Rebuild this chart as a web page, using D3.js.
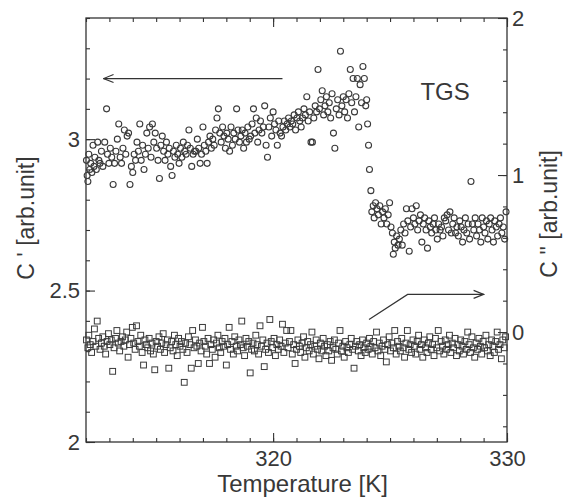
<!DOCTYPE html>
<html>
<head>
<meta charset="utf-8">
<script src="https://cdn.jsdelivr.net/npm/d3@7"></script>
<style>
  body { margin: 0; background: #fff; }
  svg text { font-family: "Liberation Sans", Arial, Helvetica, sans-serif; fill: #383838; }
</style>
</head>
<body>
<div id="chart"></div>
<script>
// C' (real part), left axis: [T, C'] below and above the transition
const realBelow = [
  [312.02,2.93],[312.05,2.88],[312.08,2.86],[312.12,2.95],[312.16,2.90],[312.20,2.92],[312.25,2.89],[312.30,2.98],
  [312.34,2.91],[312.38,2.94],[312.44,2.90],[312.50,2.99],[312.55,2.93],[312.60,2.92],[312.66,2.96],[312.72,2.91],
  [312.80,2.99],[312.88,3.10],[312.92,2.95],[312.98,2.92],[313.04,2.97],[313.10,2.94],[313.16,2.85],[313.22,2.92],
  [313.28,2.96],[313.34,3.00],[313.40,3.05],[313.46,2.94],[313.52,2.92],[313.58,2.97],[313.64,3.03],[313.70,2.95],
  [313.76,3.01],[313.82,3.02],[313.88,2.85],[313.94,2.91],[314.00,2.89],[314.06,2.95],[314.12,2.93],[314.18,2.99],
  [314.24,2.96],[314.30,3.05],[314.36,2.93],[314.42,2.98],[314.48,2.90],[314.54,2.95],[314.60,3.02],[314.66,2.97],
  [314.72,3.04],[314.78,2.94],[314.84,3.05],[314.90,2.99],[314.96,3.02],[315.02,2.97],[315.08,2.93],[315.14,2.87],
  [315.20,2.98],[315.26,3.01],[315.32,2.96],[315.38,2.93],[315.44,2.99],[315.50,2.95],[315.56,2.97],[315.62,2.91],
  [315.68,2.88],[315.74,2.96],[315.80,2.94],[315.86,2.98],[315.92,2.95],[315.98,2.92],[316.04,2.97],[316.10,2.94],
  [316.16,2.99],[316.22,2.96],[316.28,2.95],[316.34,2.98],[316.40,3.03],[316.46,2.97],[316.52,2.91],[316.58,2.95],
  [316.64,2.96],[316.70,2.96],[316.76,3.00],[316.82,2.97],[316.88,2.92],[316.94,2.95],[317.00,3.04],[317.06,2.98],
  [317.12,2.96],[317.18,2.92],[317.24,2.99],[317.30,3.01],[317.36,2.97],[317.42,3.00],[317.48,2.98],[317.54,3.03],
  [317.60,3.07],[317.66,3.10],[317.72,3.02],[317.78,2.99],[317.84,3.04],[317.90,3.01],[317.96,2.97],[318.02,3.02],
  [318.08,3.00],[318.14,2.96],[318.20,3.04],[318.26,2.98],[318.32,3.02],[318.38,3.00],[318.44,3.10],[318.50,3.03],
  [318.56,2.99],[318.62,3.01],[318.68,3.03],[318.74,2.97],[318.80,3.02],[318.86,2.99],[318.92,3.04],[318.98,3.00],
  [319.04,3.01],[319.10,3.05],[319.16,3.10],[319.22,3.02],[319.28,3.07],[319.34,2.99],[319.40,3.03],[319.46,3.06],
  [319.52,3.02],[319.58,3.04],[319.64,3.11],[319.70,2.98],[319.76,2.94],[319.82,3.04],[319.88,3.07],[319.94,3.01],
  [320.00,3.09],[320.06,3.05],[320.12,3.03],[320.18,2.98],[320.24,3.06],[320.30,3.02],[320.36,3.01],[320.42,3.04],
  [320.48,3.06],[320.54,3.03],[320.60,3.05],[320.66,3.07],[320.72,3.04],[320.78,3.06],[320.84,3.05],[320.90,3.08],
  [320.96,3.03],[321.02,3.07],[321.08,3.09],[321.14,3.06],[321.20,3.04],[321.26,3.07],[321.32,3.10],[321.38,3.08],
  [321.44,3.14],[321.50,3.06],[321.56,3.09],[321.62,2.99],[321.68,2.99],[321.74,3.07],[321.80,3.11],[321.86,3.09],
  [321.92,3.23],[321.98,3.10],[322.04,3.13],[322.10,3.16],[322.16,3.08],[322.22,3.11],[322.28,3.14],[322.34,3.09],
  [322.40,3.12],[322.46,3.07],[322.52,3.15],[322.58,3.02],[322.64,2.97],[322.70,3.10],[322.76,3.13],[322.82,3.08],
  [322.88,3.29],[322.94,3.11],[323.00,3.14],[323.06,3.09],[323.12,3.13],[323.18,3.07],[323.24,3.15],[323.30,3.23],
  [323.36,3.12],[323.42,3.20],[323.48,3.09],[323.54,3.14],[323.60,3.20],[323.66,3.04],[323.72,3.18],[323.78,3.12],
  [323.84,3.24],[323.90,3.20],[323.96,3.11],[324.00,3.13],[324.04,3.05],[324.08,2.98],[324.12,2.90],[324.18,2.83]
];
const realAbove = [
  [324.22,2.76],[324.28,2.78],[324.32,2.74],[324.38,2.79],[324.44,2.77],[324.50,2.75],[324.56,2.78],[324.62,2.72],
  [324.68,2.76],[324.74,2.74],[324.80,2.77],[324.86,2.72],[324.92,2.75],[324.98,2.79],[325.04,2.71],[325.10,2.69],
  [325.14,2.62],[325.18,2.66],[325.22,2.64],[325.28,2.68],[325.34,2.65],[325.40,2.67],[325.46,2.70],[325.52,2.65],
  [325.58,2.72],[325.64,2.69],[325.70,2.77],[325.76,2.73],[325.82,2.63],[325.88,2.71],[325.94,2.77],[326.00,2.74],
  [326.06,2.72],[326.12,2.78],[326.18,2.70],[326.24,2.73],[326.30,2.75],[326.36,2.66],[326.42,2.72],[326.48,2.74],
  [326.54,2.70],[326.60,2.64],[326.66,2.73],[326.72,2.71],[326.78,2.69],[326.84,2.72],[326.90,2.74],[326.96,2.70],
  [327.02,2.67],[327.08,2.72],[327.14,2.70],[327.20,2.71],[327.26,2.68],[327.32,2.74],[327.38,2.73],[327.44,2.75],
  [327.50,2.70],[327.56,2.76],[327.62,2.69],[327.68,2.72],[327.74,2.74],[327.80,2.69],[327.86,2.71],[327.92,2.68],
  [327.98,2.73],[328.04,2.71],[328.10,2.66],[328.16,2.70],[328.22,2.74],[328.28,2.69],[328.34,2.72],[328.40,2.67],
  [328.46,2.86],[328.52,2.72],[328.58,2.70],[328.64,2.74],[328.70,2.68],[328.76,2.72],[328.82,2.70],[328.88,2.66],
  [328.94,2.74],[329.00,2.71],[329.06,2.69],[329.12,2.73],[329.18,2.67],[329.24,2.72],[329.30,2.74],[329.36,2.70],
  [329.42,2.66],[329.48,2.73],[329.54,2.71],[329.60,2.68],[329.66,2.72],[329.72,2.74],[329.78,2.69],[329.84,2.71],
  [329.90,2.67],[329.96,2.76]
];
// C'' (imaginary part), right axis: [T, C'']
const imagPart = [
  [312.02,-0.05],[312.08,-0.10],[312.12,-0.02],[312.18,-0.08],[312.24,-0.13],[312.30,-0.06],[312.36,0.02],[312.42,-0.09],
  [312.48,0.07],[312.54,-0.04],[312.60,-0.11],[312.66,-0.07],[312.72,-0.03],[312.78,-0.09],[312.84,-0.14],[312.90,-0.06],
  [312.96,-0.01],[313.02,-0.08],[313.08,-0.05],[313.14,-0.25],[313.20,-0.10],[313.26,-0.04],[313.32,0.01],[313.38,-0.07],
  [313.44,-0.12],[313.50,-0.06],[313.56,-0.03],[313.62,-0.09],[313.68,-0.05],[313.74,0.00],[313.80,-0.16],[313.86,-0.08],
  [313.92,-0.04],[313.98,0.03],[314.04,-0.07],[314.10,-0.11],[314.16,0.04],[314.22,-0.06],[314.28,-0.09],[314.34,-0.02],
  [314.40,-0.13],[314.46,-0.21],[314.52,-0.05],[314.58,-0.08],[314.64,-0.10],[314.70,-0.04],[314.76,-0.12],[314.82,-0.07],
  [314.88,-0.14],[314.94,-0.24],[315.00,-0.06],[315.06,-0.09],[315.12,-0.03],[315.18,-0.11],[315.24,-0.07],[315.30,-0.01],
  [315.36,-0.13],[315.42,-0.08],[315.48,-0.05],[315.54,-0.23],[315.60,-0.10],[315.66,-0.06],[315.72,-0.12],[315.78,-0.02],
  [315.84,-0.08],[315.90,-0.15],[315.96,-0.04],[316.02,-0.09],[316.08,-0.06],[316.14,-0.11],[316.20,-0.32],[316.26,-0.07],
  [316.32,-0.13],[316.38,-0.03],[316.44,-0.08],[316.50,-0.23],[316.56,0.01],[316.62,-0.10],[316.68,-0.05],[316.74,-0.09],
  [316.80,-0.20],[316.86,-0.07],[316.92,-0.12],[316.98,0.03],[317.04,-0.06],[317.10,-0.09],[317.16,-0.14],[317.22,-0.04],
  [317.28,-0.20],[317.34,-0.08],[317.40,-0.11],[317.46,-0.05],[317.52,-0.16],[317.58,-0.07],[317.64,-0.02],[317.70,-0.10],
  [317.76,-0.13],[317.82,-0.06],[317.88,-0.09],[317.94,-0.04],[318.00,-0.21],[318.06,-0.08],[318.12,0.03],[318.18,-0.11],
  [318.24,-0.06],[318.30,-0.14],[318.36,-0.03],[318.42,-0.09],[318.48,-0.12],[318.54,-0.05],[318.60,-0.08],[318.66,0.07],
  [318.72,-0.10],[318.78,-0.15],[318.84,-0.04],[318.90,-0.09],[318.96,-0.06],[319.02,-0.26],[319.08,-0.11],[319.14,-0.07],
  [319.20,-0.12],[319.26,-0.02],[319.32,-0.08],[319.38,-0.14],[319.44,0.04],[319.50,-0.09],[319.56,-0.05],[319.62,-0.22],
  [319.68,-0.11],[319.74,-0.07],[319.80,-0.13],[319.86,0.08],[319.92,-0.06],[319.98,-0.10],[320.04,-0.04],[320.10,-0.15],
  [320.16,-0.08],[320.22,-0.11],[320.28,-0.05],[320.34,-0.09],[320.40,0.05],[320.46,-0.13],[320.52,-0.07],[320.58,0.01],
  [320.64,-0.10],[320.70,-0.06],[320.76,0.01],[320.82,-0.14],[320.88,-0.08],[320.94,-0.20],[321.00,-0.11],[321.06,-0.05],
  [321.12,-0.09],[321.18,-0.13],[321.24,-0.07],[321.30,-0.03],[321.36,-0.16],[321.42,-0.10],[321.48,-0.06],[321.54,-0.12],
  [321.60,-0.08],[321.66,0.00],[321.72,-0.14],[321.78,-0.09],[321.84,-0.05],[321.90,-0.11],[321.96,-0.17],[322.02,-0.07],
  [322.08,-0.12],[322.14,-0.04],[322.20,-0.09],[322.26,-0.15],[322.32,-0.08],[322.38,-0.12],[322.44,-0.06],[322.50,-0.18],
  [322.56,-0.10],[322.62,-0.05],[322.68,-0.11],[322.74,-0.14],[322.80,-0.07],[322.86,0.01],[322.92,-0.12],[322.98,-0.09],
  [323.04,-0.16],[323.10,-0.06],[323.16,-0.10],[323.22,-0.13],[323.28,-0.08],[323.34,-0.04],[323.40,-0.11],[323.46,-0.23],
  [323.52,-0.09],[323.58,-0.06],[323.64,-0.12],[323.70,-0.08],[323.76,-0.15],[323.82,-0.05],[323.88,-0.10],[323.94,-0.13],
  [324.00,-0.07],[324.06,-0.11],[324.12,-0.04],[324.18,-0.09],[324.24,-0.14],[324.30,-0.06],[324.36,-0.10],[324.42,0.00],
  [324.48,-0.12],[324.54,-0.07],[324.60,-0.15],[324.66,-0.09],[324.72,-0.05],[324.78,-0.11],[324.84,-0.19],[324.90,-0.08],
  [324.96,-0.03],[325.02,-0.12],[325.08,-0.07],[325.14,-0.10],[325.20,0.01],[325.26,-0.14],[325.32,-0.06],[325.38,-0.09],
  [325.44,-0.12],[325.50,-0.04],[325.56,-0.10],[325.62,-0.16],[325.68,-0.07],[325.74,0.01],[325.80,-0.11],[325.86,-0.08],
  [325.92,-0.13],[325.98,-0.05],[326.04,-0.09],[326.10,-0.14],[326.16,-0.06],[326.22,-0.02],[326.28,-0.11],[326.34,-0.08],
  [326.40,-0.16],[326.46,-0.05],[326.52,-0.10],[326.58,-0.13],[326.64,-0.07],[326.70,-0.03],[326.76,-0.11],[326.82,-0.08],
  [326.88,-0.15],[326.94,-0.04],[327.00,-0.10],[327.06,0.01],[327.12,-0.12],[327.18,-0.06],[327.24,-0.09],[327.30,-0.14],
  [327.36,-0.05],[327.42,-0.11],[327.48,-0.08],[327.54,-0.02],[327.60,-0.13],[327.66,-0.07],[327.72,-0.10],[327.78,-0.04],
  [327.84,-0.15],[327.90,-0.08],[327.96,-0.12],[328.02,-0.05],[328.08,-0.09],[328.14,-0.14],[328.20,-0.06],[328.26,-0.11],
  [328.32,0.00],[328.38,-0.08],[328.44,-0.13],[328.50,-0.03],[328.56,-0.10],[328.62,-0.16],[328.68,-0.07],[328.74,-0.11],
  [328.80,-0.04],[328.86,-0.09],[328.92,-0.14],[328.98,-0.06],[329.04,-0.10],[329.10,-0.02],[329.16,-0.12],[329.22,-0.08],
  [329.28,-0.15],[329.34,-0.05],[329.40,-0.09],[329.46,-0.13],[329.52,-0.06],[329.58,0.00],[329.64,-0.11],[329.70,-0.08],
  [329.76,-0.17],[329.82,-0.05],[329.88,-0.10],[329.94,-0.03]
];

// tick labels
const xTickLabels = [320, 330];
const leftTickLabels = [2, 2.5, 3];
const rightTickLabels = [0, 1, 2];

const W = 571, H = 499;
const margin = {top: 18, right: 64, bottom: 57, left: 86};
const w = W - margin.left - margin.right;
const h = H - margin.top - margin.bottom;
const ink = "#333";

const svg = d3.select("#chart").append("svg")
    .attr("width", W)
    .attr("height", H);

const g = svg.append("g")
    .attr("transform", `translate(${margin.left},${margin.top})`);

// scales
const x = d3.scaleLinear().domain([312, 330]).range([0, w]);
const yL = d3.scaleLinear().domain([2, 3.4]).range([h, 0]);
const yR = d3.scaleLinear().domain([-0.7, 2]).range([h, 0]);

// styles for axes
function styleAxis(sel) {
    sel.attr("font-size", 22)
        .attr("font-family", null)
        .attr("color", ink);
    sel.select(".domain").remove();
    sel.selectAll(".tick line").attr("stroke-width", 1.1);
}

// bottom + top, minor ticks every 1 K
g.append("g").attr("transform", `translate(0,${h})`)
    .call(d3.axisBottom(x).tickValues(d3.range(312, 331)).tickSize(-4).tickFormat(""))
    .call(styleAxis);
g.append("g").attr("transform", `translate(0,${h})`)
    .call(d3.axisBottom(x).tickValues(xTickLabels).tickSize(-9).tickPadding(8).tickFormat(d3.format("d")))
    .call(styleAxis);
g.append("g")
    .call(d3.axisTop(x).tickValues(d3.range(312, 331)).tickSize(-4).tickFormat(""))
    .call(styleAxis);
g.append("g")
    .call(d3.axisTop(x).tickValues(xTickLabels).tickSize(-9).tickFormat(""))
    .call(styleAxis);

// left axis C'
g.append("g")
    .call(d3.axisLeft(yL).tickValues(d3.range(20, 35).map(d => d / 10)).tickSize(-4).tickFormat(""))
    .call(styleAxis);
g.append("g")
    .call(d3.axisLeft(yL).tickValues(leftTickLabels).tickSize(-9).tickPadding(6).tickFormat(d => d))
    .call(styleAxis);

// right axis C''
g.append("g").attr("transform", `translate(${w},0)`)
    .call(d3.axisRight(yR).tickValues(d3.range(-6, 21, 2).map(d => d / 10)).tickSize(-4).tickFormat(""))
    .call(styleAxis);
g.append("g").attr("transform", `translate(${w},0)`)
    .call(d3.axisRight(yR).tickValues(rightTickLabels).tickSize(-9).tickPadding(5).tickFormat(d => d))
    .call(styleAxis);

// frame
g.append("rect")
    .attr("width", w)
    .attr("height", h)
    .attr("fill", "none")
    .attr("stroke", ink)
    .attr("stroke-width", 1.3);

// C'' squares
const s = 5.8;
g.append("g").selectAll("rect")
    .data(imagPart)
    .join("rect")
    .attr("x", d => x(d[0]) - s / 2)
    .attr("y", d => yR(d[1]) - s / 2)
    .attr("width", s)
    .attr("height", s)
    .attr("fill", "none")
    .attr("stroke", "#3a3a3a")
    .attr("stroke-width", 1);

// C' circles
g.append("g").selectAll("circle")
    .data(realBelow.concat(realAbove))
    .join("circle")
    .attr("cx", d => x(d[0]))
    .attr("cy", d => yL(d[1]))
    .attr("r", 3)
    .attr("fill", "none")
    .attr("stroke", "#3a3a3a")
    .attr("stroke-width", 1.1);

// arrows pointing to each axis
svg.append("defs").append("marker")
    .attr("id", "head")
    .attr("viewBox", "0 0 12 10")
    .attr("refX", 11)
    .attr("refY", 5)
    .attr("markerWidth", 12)
    .attr("markerHeight", 10)
    .attr("markerUnits", "userSpaceOnUse")
    .attr("orient", "auto")
    .append("path")
    .attr("d", "M1,1 L11,5 L1,9")
    .attr("fill", "none")
    .attr("stroke", ink)
    .attr("stroke-width", 1.1);

const arrowLine = d3.line();
g.append("path")
    .attr("d", arrowLine([[x(320.4), yL(3.2)], [x(312.75), yL(3.2)]]))
    .attr("fill", "none")
    .attr("stroke", ink)
    .attr("stroke-width", 1.2)
    .attr("marker-end", "url(#head)");
g.append("path")
    .attr("d", arrowLine([[x(324.1), yR(0.08)], [x(325.75), yR(0.24)], [x(329.0), yR(0.24)]]))
    .attr("fill", "none")
    .attr("stroke", ink)
    .attr("stroke-width", 1.2)
    .attr("marker-end", "url(#head)");

// sample name
g.append("text")
    .attr("x", x(326.3))
    .attr("y", yL(3.13))
    .attr("font-size", 24)
    .text("TGS");

// axis titles
svg.append("text")
    .attr("x", margin.left + w / 2 + 6)
    .attr("y", 492)
    .attr("text-anchor", "middle")
    .attr("font-size", 24)
    .text("Temperature [K]");
svg.append("text")
    .attr("transform", `translate(34,218) rotate(-90)`)
    .attr("text-anchor", "middle")
    .attr("font-size", 23)
    .text("C ' [arb.unit]");
svg.append("text")
    .attr("transform", `translate(557,214) rotate(-90)`)
    .attr("text-anchor", "middle")
    .attr("font-size", 23)
    .text("C '' [arb.unit]");
</script>
</body>
</html>
